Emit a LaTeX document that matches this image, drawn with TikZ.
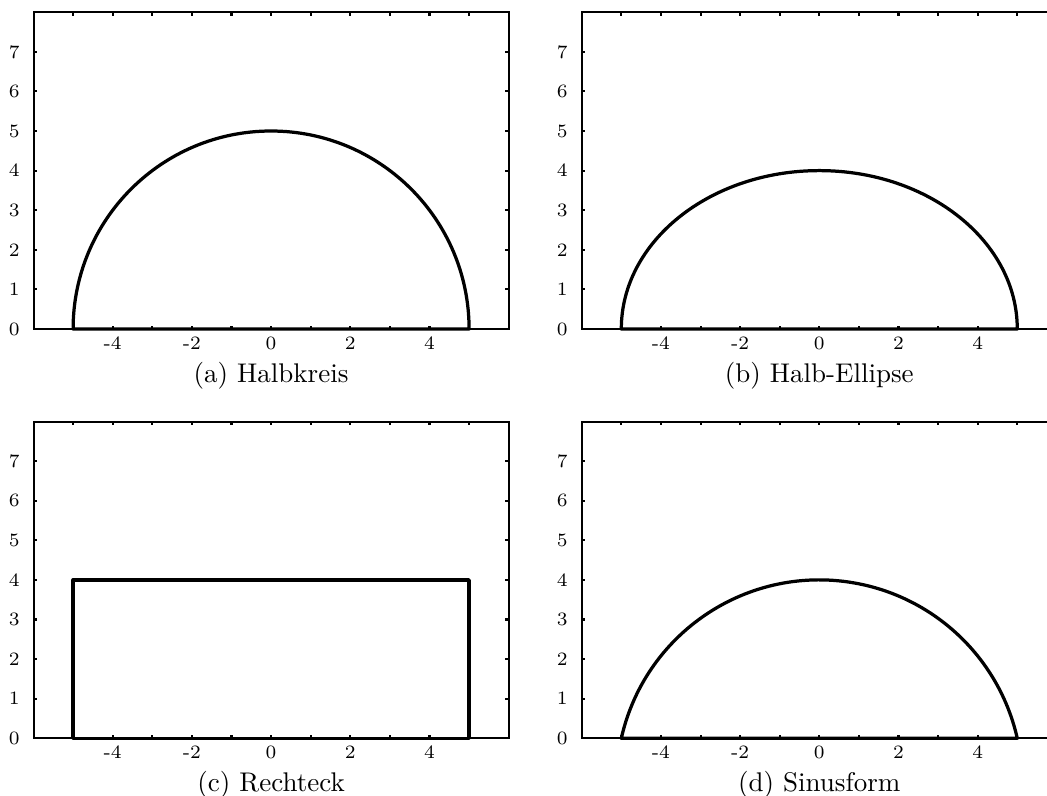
\documentclass[tikz,border=0pt]{standalone}
\usetikzlibrary{positioning}
\begin{document}
\begin{tikzpicture}[
        x=0.3704pt, y=-0.3704pt,
        frame/.style={line width=0.75pt},
        curve/.style={line width=1.2pt, line join=round},
        ticklab/.style={font=\scriptsize, inner sep=0pt},
        caption/.style={anchor=base, inner sep=0pt},
        panel/.style={x=14.667pt, y=14.667pt},
    ]
        \useasboundingbox (0,0) rectangle (1047,796);

        % frames, ticks and tick labels of the four panels
        \foreach \px/\py/\tag in {271.1/329/a, 819.3/329/b, 271.1/738.3/c, 819.3/738.3/d} {
            \begin{scope}[shift={(\px,\py)}, panel]
                \draw[frame] (-6,0) rectangle (6,8);
                \foreach \t in {-5,...,5} {
                    \draw[frame] (\t,0) -- ++(0,0.083);
                    \draw[frame] (\t,8) -- ++(0,-0.083);
                }
                \foreach \t in {1,...,7} {
                    \draw[frame] (-6,\t) -- ++(0.083,0);
                    \draw[frame] (6,\t) -- ++(-0.083,0);
                }
                \foreach \t in {0,...,7}
                    \node[ticklab, anchor=east] (ylab\tag\t) at (-6.34,\t) {\t};
                \foreach \t in {-4,-2,0,2,4}
                    \node[ticklab, anchor=base] (xlab\tag\t) at (\t,-0.513) {\t};
            \end{scope}
        }

        % (a) half circle
        \begin{scope}[shift={(271.1,329)}, panel]
            \draw[curve] (-5,0) arc[start angle=180, end angle=0, radius=5] -- cycle;
            \node[caption] (capa) at (0,-1.34) {(a) Halbkreis};
        \end{scope}

        % (b) half ellipse
        \begin{scope}[shift={(819.3,329)}, panel]
            \draw[curve] (-5,0) arc[start angle=180, end angle=0, x radius=5, y radius=4] -- cycle;
            \node[caption] (capb) at (0,-1.34) {(b) Halb-Ellipse};
        \end{scope}

        % (c) rectangle
        \begin{scope}[shift={(271.1,738.3)}, panel]
            \draw[curve] (-5,0) rectangle (5,4);
            \node[caption] (capc) at (0,-1.34) {(c) Rechteck};
        \end{scope}

        % (d) sine shape
        \begin{scope}[shift={(819.3,738.3)}, panel]
            \draw[curve] (-5,0) arc[start angle=167.32, end angle=12.68, radius=5.125] -- cycle;
            \node[caption] (capd) at (0,-1.34) {(d) Sinusform};
        \end{scope}
    \end{tikzpicture}
\end{document}
